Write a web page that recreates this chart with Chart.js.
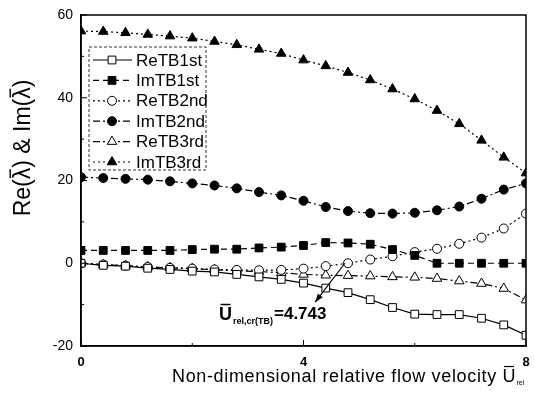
<!DOCTYPE html>
<html>
<head>
<meta charset="utf-8">
<script src="https://cdn.jsdelivr.net/npm/chart.js@4.4.1/dist/chart.umd.min.js"></script>
<style>
  body { margin: 0; background: #fff; }
  canvas { display: block; }
</style>
</head>
<body>
<canvas id="chart" width="534" height="395"></canvas>
<script>
// flow velocity (x) for every sample
var velocity = [0, 0.4, 0.8, 1.2, 1.6, 2, 2.4, 2.8, 3.2, 3.6, 4, 4.4, 4.8, 5.2, 5.6, 6, 6.4, 6.8, 7.2, 7.6, 8];

// eigenvalue branches
var reTB1st = [0, -0.5, -0.7, -1.2, -1.5, -1.9, -2.1, -2.7, -3.3, -3.9, -4.8, -6.0, -7.1, -8.8, -10.7, -12.3, -12.4, -12.4, -13.3, -14.9, -17.4];
var imTB1st = [3.1, 3.1, 3.1, 3.1, 3.1, 3.3, 3.4, 3.4, 3.7, 3.9, 4.3, 5.0, 4.9, 4.6, 3.3, 1.9, 0, 0, 0, 0, 0];
var reTB2nd = [0, -0.3, -0.6, -0.9, -1.1, -1.3, -1.5, -1.6, -1.7, -1.6, -1.3, -0.7, 0, 0.9, 1.7, 2.7, 3.5, 4.7, 6.2, 8.4, 12.0];
var imTB2nd = [20.8, 20.6, 20.4, 20.2, 19.8, 19.3, 18.8, 18.1, 17.2, 16.4, 15.1, 13.6, 12.6, 12.1, 12.0, 12.2, 12.8, 13.7, 15.6, 17.8, 19.3];
var reTB3rd = [0, -0.4, -0.6, -0.9, -1.1, -1.3, -1.6, -1.8, -2.0, -2.3, -2.7, -2.9, -3.0, -3.1, -3.3, -3.4, -3.7, -4.3, -4.9, -6.1, -8.9];
var imTB3rd = [56.1, 56.0, 55.7, 55.3, 54.9, 54.4, 53.6, 52.8, 51.7, 50.7, 49.1, 47.7, 46.1, 44.3, 42.1, 39.7, 36.9, 33.7, 29.7, 25.6, 21.8];

var seriesNames = ["ReTB1st", "ImTB1st", "ReTB2nd", "ImTB2nd", "ReTB3rd", "ImTB3rd"];

// axis ticks
var xTicks = [0, 4, 8];
var xMinor = [2, 6];
var yTicks = [-20, 0, 20, 40, 60];
var yMinor = [-10, 10, 30, 50];

// critical velocity marker
var criticalU = 4.743;
var arrowEnd = { x: 4.21, y: -9.4 };

var FONT = "'Liberation Sans', Arial, sans-serif";

var pairs = function(arr){
  return velocity.map(function(v, i){ return { x: v, y: arr[i] }; });
};

var makeSet = function(label, arr, style, dash, open){
  return {
    label: label,
    data: pairs(arr),
    borderColor: "#000",
    borderWidth: 1.2,
    borderDash: dash,
    pointStyle: style,
    pointRadius: style == "circle" ? 4.5 : 5.5,
    pointBorderWidth: 1,
    pointBorderColor: "#000",
    pointBackgroundColor: open ? "#fff" : "#000",
    backgroundColor: open ? "#fff" : "#000",
    fill: false,
    tension: 0
  };
};

var datasets = [
  makeSet(seriesNames[0], reTB1st, "rect", [], true),
  makeSet(seriesNames[1], imTB1st, "rect", [6, 4], false),
  makeSet(seriesNames[2], reTB2nd, "circle", [2, 3], true),
  makeSet(seriesNames[3], imTB2nd, "circle", [7, 3, 2, 3], false),
  makeSet(seriesNames[4], reTB3rd, "triangle", [7, 3, 2, 3], true),
  makeSet(seriesNames[5], imTB3rd, "triangle", [2, 3], false)
];

// draws a letter with a bar over it, returns the width used
var barText = function(ctx, txt, x, y, size, lw){
  ctx.fillText(txt, x, y);
  var w = ctx.measureText(txt).width;
  ctx.save();
  ctx.lineWidth = lw;
  ctx.beginPath();
  ctx.moveTo(x + w * 0.12, y - size * 0.86);
  ctx.lineTo(x + w * 0.88, y - size * 0.86);
  ctx.stroke();
  ctx.restore();
  return w;
};

var extras = {
  id: "extras",
  afterDraw: function(chart){
    var ctx = chart.ctx;
    var a = chart.chartArea;
    var xs = chart.scales.x, ys = chart.scales.y;
    ctx.save();
    ctx.strokeStyle = "#000";
    ctx.fillStyle = "#000";

    // frame
    ctx.lineWidth = 1.5;
    ctx.strokeRect(a.left, a.top, a.right - a.left, a.bottom - a.top);

    // inward ticks
    ctx.lineWidth = 1;
    ctx.beginPath();
    xTicks.forEach(function(v){
      var px = xs.getPixelForValue(v);
      ctx.moveTo(px, a.bottom); ctx.lineTo(px, a.bottom - 6);
    });
    xMinor.forEach(function(v){
      var px = xs.getPixelForValue(v);
      ctx.moveTo(px, a.bottom); ctx.lineTo(px, a.bottom - 3);
    });
    yTicks.forEach(function(v){
      var py = ys.getPixelForValue(v);
      ctx.moveTo(a.left, py); ctx.lineTo(a.left + 6, py);
    });
    yMinor.forEach(function(v){
      var py = ys.getPixelForValue(v);
      ctx.moveTo(a.left, py); ctx.lineTo(a.left + 3, py);
    });
    ctx.stroke();

    // legend box
    var lx = 89, ly = 47, lw = 117, lh = 123;
    ctx.save();
    ctx.setLineDash([3, 2]);
    ctx.lineWidth = 1;
    ctx.strokeStyle = "#333";
    ctx.fillStyle = "#fff";
    ctx.fillRect(lx, ly, lw, lh);
    ctx.strokeRect(lx, ly, lw, lh);
    ctx.restore();
    ctx.font = "17px " + FONT;
    ctx.textBaseline = "middle";
    datasets.forEach(function(ds, i){
      var cy = 60 + i * 20.4;
      ctx.save();
      ctx.lineWidth = ds.borderWidth;
      ctx.setLineDash(ds.borderDash);
      ctx.beginPath();
      ctx.moveTo(93, cy); ctx.lineTo(132, cy);
      ctx.stroke();
      ctx.restore();
      ctx.save();
      ctx.fillStyle = ds.pointBackgroundColor;
      ctx.lineWidth = 1;
      Chart.helpers.drawPoint(ctx, { pointStyle: ds.pointStyle, radius: ds.pointRadius, borderWidth: 1 }, 112, cy);
      ctx.restore();
      ctx.fillText(ds.label, 136, cy + 1);
    });

    // critical velocity arrow
    var sx = xs.getPixelForValue(criticalU), sy = ys.getPixelForValue(0);
    var ex = xs.getPixelForValue(arrowEnd.x), ey = ys.getPixelForValue(arrowEnd.y);
    ctx.lineWidth = 1.2;
    ctx.beginPath();
    ctx.moveTo(sx, sy); ctx.lineTo(ex, ey);
    ctx.stroke();
    var ang = Math.atan2(ey - sy, ex - sx);
    ctx.beginPath();
    ctx.moveTo(ex, ey);
    ctx.lineTo(ex - 9 * Math.cos(ang - 0.35), ey - 9 * Math.sin(ang - 0.35));
    ctx.lineTo(ex - 9 * Math.cos(ang + 0.35), ey - 9 * Math.sin(ang + 0.35));
    ctx.closePath();
    ctx.fill();

    // critical velocity label
    ctx.textBaseline = "alphabetic";
    ctx.font = "bold 18px " + FONT;
    var tx = 219, ty = 320;
    tx += barText(ctx, "U", tx, ty, 18, 1.5) + 1;
    ctx.font = "bold 9px " + FONT;
    ctx.fillText("rel,cr(TB)", tx, ty + 4);
    tx += ctx.measureText("rel,cr(TB)").width + 1;
    ctx.font = "bold 17px " + FONT;
    ctx.fillText("=4.743", tx, ty - 1);

    // x axis title
    ctx.font = "18px " + FONT;
    ctx.letterSpacing = "0.65px";
    var xt = "Non-dimensional relative flow velocity ";
    var px = 172, py = 382;
    ctx.fillText(xt, px, py);
    px += ctx.measureText(xt).width;
    ctx.letterSpacing = "0px";
    px += barText(ctx, "U", px, py, 18, 1.2);
    ctx.font = "7px " + FONT;
    ctx.fillText("rel", px + 1, py + 3);

    // y axis title
    ctx.save();
    ctx.translate(30, 148);
    ctx.rotate(-Math.PI / 2);
    ctx.font = "23px " + FONT;
    var parts = ["Re(", "\u03bb", ") & Im(", "\u03bb", ")"];
    var total = 0;
    parts.forEach(function(p){ total += ctx.measureText(p).width; });
    var cx = -total / 2;
    parts.forEach(function(p){
      if (p == "\u03bb") {
        cx += barText(ctx, p, cx, 0, 23, 1.4);
      } else {
        ctx.fillText(p, cx, 0);
        cx += ctx.measureText(p).width;
      }
    });
    ctx.restore();

    ctx.restore();
  }
};

new Chart(document.getElementById("chart").getContext("2d"), {
  type: "line",
  data: { datasets: datasets },
  options: {
    responsive: false,
    animation: false,
    devicePixelRatio: 1,
    layout: { padding: { top: 15, right: 8, left: 0, bottom: 0 } },
    plugins: { legend: { display: false }, tooltip: { enabled: false } },
    scales: {
      x: {
        type: "linear",
        min: 0, max: 8,
        afterFit: function(scale){
          scale.height = 49;
          scale.paddingLeft = 0;
          scale.paddingRight = 0;
        },
        afterBuildTicks: function(scale){ scale.ticks = xTicks.map(function(v){ return { value: v }; }); },
        grid: { display: false, drawTicks: false },
        border: { display: true, color: "#000", width: 1.5 },
        ticks: { padding: 9, color: "#000", font: { family: FONT, size: 13, weight: "bold" } }
      },
      y: {
        type: "linear",
        min: -20, max: 60,
        afterFit: function(scale){
          scale.width = 81;
          scale.paddingTop = 0;
          scale.paddingBottom = 0;
        },
        afterBuildTicks: function(scale){ scale.ticks = yTicks.map(function(v){ return { value: v }; }); },
        grid: { display: false, drawTicks: false },
        border: { display: true, color: "#000", width: 1.5 },
        ticks: { padding: 8, color: "#000", font: { family: FONT, size: 14 } }
      }
    }
  },
  plugins: [extras]
});
</script>
</body>
</html>
